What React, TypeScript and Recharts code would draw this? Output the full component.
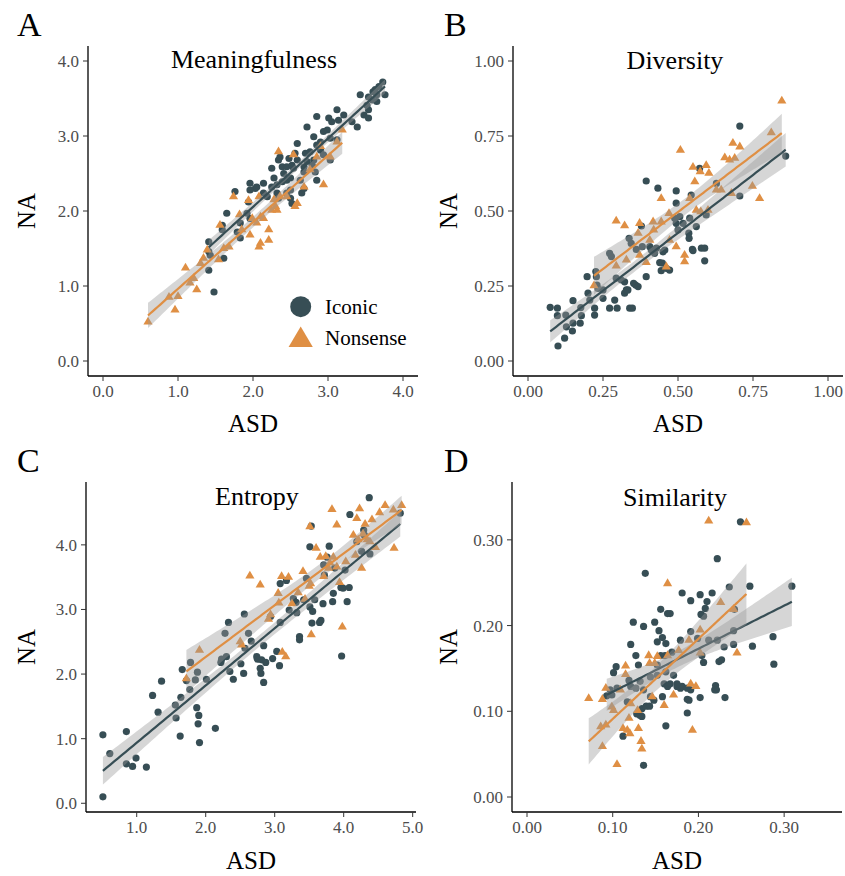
import React from 'react';
import { ComposedChart, Scatter, Line, Area, XAxis, YAxis } from 'recharts';

const ICONIC = '#374E55';
const NONSENSE = '#DF8F44';
const SERIF = "'Liberation Serif', 'Times New Roman', serif";

type Pt = [number, number];

const meaningIconic: Pt[] = [
  [3.73,3.72],[3.68,3.66],[3.63,3.62],[3.60,3.59],[3.65,3.55],[3.76,3.55],[3.43,3.55],[3.54,3.52],[3.59,3.48],[3.65,3.46],
  [3.52,3.41],[3.54,3.35],[3.48,3.28],[3.54,3.24],[3.12,3.35],[3.21,3.28],[3.14,3.21],[3.01,3.24],[3.05,3.19],[2.85,3.26],
  [3.32,3.19],[3.39,3.12],[2.99,3.08],[2.94,3.06],[2.72,3.12],[2.81,2.99],[2.90,2.92],[3.03,2.97],[3.12,2.95],[2.85,2.88],
  [2.76,2.79],[2.70,2.77],[2.59,2.90],[2.56,2.77],[2.48,2.70],[2.36,2.72],[2.34,2.68],[2.39,2.59],[2.45,2.59],[2.41,2.50],
  [2.52,2.61],[2.54,2.57],[2.59,2.68],[2.68,2.59],[2.72,2.66],[2.79,2.61],[2.81,2.68],[2.94,2.75],[3.03,2.68],[2.90,2.81],
  [2.68,2.52],[2.83,2.52],[2.25,2.57],[2.28,2.44],[2.39,2.39],[2.45,2.41],[2.50,2.28],[2.32,2.35],[2.14,2.37],[2.03,2.30],
  [1.96,2.37],[1.96,2.28],[2.05,2.32],[2.14,2.24],[2.25,2.32],[2.32,2.24],[2.45,2.24],[2.50,2.17],[2.65,2.24],[2.68,2.30],
  [2.52,2.10],[2.34,2.17],[2.19,2.19],[1.94,2.12],[1.92,1.97],[1.96,1.90],[1.83,1.84],[1.76,2.26],[1.65,1.97],[1.59,1.75],
  [1.59,1.81],[1.79,1.72],[1.83,1.64],[1.41,1.59],[1.41,1.46],[1.61,1.37],[1.43,1.41],[1.41,1.21],[1.48,0.92],[2.63,2.41],
  [2.85,2.41],[2.50,2.44],
];

const meaningNonsense: Pt[] = [
  [0.60,0.52],[0.96,0.68],[0.88,0.85],[1.00,0.86],[1.10,1.24],[1.16,1.04],[1.25,0.95],[1.21,1.10],[1.30,1.30],[1.34,1.37],
  [1.39,1.48],[1.56,1.81],[1.54,1.35],[1.61,1.50],[1.68,1.52],[1.74,2.19],[1.82,1.95],[1.85,1.75],[1.94,2.14],[1.96,1.68],
  [2.05,1.84],[2.08,2.19],[2.10,1.57],[2.08,1.52],[2.10,1.92],[2.14,1.90],[2.21,1.75],[2.21,1.61],[2.25,2.01],[2.28,2.15],
  [2.30,2.06],[2.32,2.01],[2.34,2.79],[2.36,2.19],[2.45,2.19],[2.54,2.75],[2.56,2.06],[2.59,2.10],[2.68,2.32],[2.76,2.55],
  [2.85,2.72],[2.94,2.35],[3.03,2.72],[3.12,2.92],[3.19,3.08],[2.90,2.86],[1.99,1.90],
];

const diversityIconic: Pt[] = [
  [0.074,0.179],[0.098,0.176],[0.100,0.050],[0.098,0.151],[0.122,0.076],[0.126,0.153],[0.128,0.114],[0.150,0.201],[0.148,0.100],[0.150,0.126],
  [0.174,0.126],[0.176,0.178],[0.178,0.151],[0.197,0.281],[0.200,0.226],[0.206,0.203],[0.222,0.176],[0.222,0.153],[0.226,0.298],[0.228,0.281],
  [0.230,0.253],[0.233,0.242],[0.250,0.209],[0.250,0.237],[0.272,0.359],[0.278,0.348],[0.272,0.176],[0.289,0.203],[0.294,0.276],[0.297,0.176],
  [0.311,0.270],[0.322,0.264],[0.322,0.226],[0.328,0.237],[0.333,0.237],[0.337,0.409],[0.339,0.176],[0.344,0.392],[0.348,0.176],[0.352,0.259],
  [0.359,0.253],[0.367,0.248],[0.361,0.372],[0.378,0.450],[0.381,0.381],[0.394,0.281],[0.394,0.600],[0.406,0.381],[0.411,0.370],[0.422,0.359],
  [0.428,0.376],[0.433,0.576],[0.439,0.328],[0.444,0.301],[0.448,0.326],[0.450,0.364],[0.456,0.370],[0.461,0.309],[0.472,0.303],[0.494,0.567],
  [0.494,0.526],[0.494,0.459],[0.500,0.437],[0.506,0.481],[0.536,0.426],[0.537,0.409],[0.539,0.476],[0.544,0.553],[0.548,0.372],[0.550,0.368],
  [0.561,0.448],[0.572,0.642],[0.578,0.376],[0.589,0.376],[0.589,0.334],[0.594,0.487],[0.628,0.592],[0.706,0.783],[0.706,0.550],[0.859,0.683],
  [0.489,0.476],[0.517,0.459],
];

const diversityNonsense: Pt[] = [
  [0.220,0.251],[0.294,0.467],[0.322,0.451],[0.294,0.317],[0.328,0.337],[0.372,0.459],[0.367,0.426],[0.372,0.353],[0.394,0.329],[0.417,0.464],
  [0.419,0.437],[0.444,0.464],[0.444,0.542],[0.461,0.314],[0.470,0.492],[0.472,0.403],[0.494,0.381],[0.508,0.703],[0.522,0.353],[0.522,0.331],
  [0.550,0.646],[0.556,0.598],[0.574,0.631],[0.576,0.498],[0.594,0.652],[0.600,0.503],[0.603,0.626],[0.628,0.570],[0.644,0.570],[0.656,0.678],
  [0.672,0.670],[0.683,0.726],[0.689,0.676],[0.706,0.714],[0.678,0.559],[0.748,0.583],[0.772,0.542],[0.811,0.761],[0.846,0.867],[0.561,0.503],
  [0.539,0.542],[0.406,0.403],
];

const entropyIconic: Pt[] = [
  [0.51,0.10],[0.51,1.06],[0.61,0.77],[0.85,0.61],[0.85,1.11],[0.94,0.57],[0.99,0.70],[1.14,0.56],[1.23,1.67],[1.31,1.41],
  [1.36,1.89],[1.56,1.52],[1.57,1.32],[1.63,1.04],[1.64,1.64],[1.66,2.07],[1.72,1.90],[1.77,1.76],[1.78,2.18],[1.85,1.91],
  [1.87,1.48],[1.88,2.03],[1.89,1.23],[1.90,1.36],[1.91,0.94],[2.01,1.92],[2.14,1.16],[2.22,2.18],[2.23,2.23],[2.28,2.63],
  [2.30,2.27],[2.33,2.80],[2.35,2.04],[2.40,1.92],[2.51,2.16],[2.55,2.01],[2.56,2.93],[2.57,2.40],[2.62,2.63],[2.66,2.51],
  [2.74,2.27],[2.75,2.23],[2.79,2.09],[2.80,2.01],[2.81,2.22],[2.84,1.87],[2.84,2.44],[2.87,2.18],[2.94,2.89],[2.97,2.24],
  [3.03,2.35],[3.07,2.13],[3.08,2.80],[3.08,3.40],[3.17,3.45],[3.21,2.99],[3.27,3.17],[3.31,3.11],[3.32,2.95],[3.36,2.58],
  [3.36,2.53],[3.42,3.15],[3.46,3.48],[3.51,3.97],[3.51,3.04],[3.53,4.29],[3.54,2.79],[3.55,2.97],[3.58,3.15],[3.65,2.80],
  [3.67,2.83],[3.70,3.09],[3.71,3.69],[3.72,3.53],[3.76,3.81],[3.79,3.98],[3.84,3.12],[3.85,3.25],[3.87,3.64],[3.96,3.34],
  [3.97,2.28],[3.99,3.33],[4.02,3.61],[4.05,3.12],[4.08,3.34],[4.09,4.47],[4.19,4.05],[4.26,3.90],[4.29,4.23],[4.30,4.15],
  [4.37,4.73],[4.38,3.86],[4.82,4.49],
];

const entropyNonsense: Pt[] = [
  [1.72,1.93],[1.91,2.37],[2.50,2.50],[2.52,2.45],[2.64,3.52],[2.79,3.38],[2.91,2.85],[2.94,2.92],[3.05,3.25],[3.06,3.10],
  [3.10,3.51],[3.11,2.34],[3.16,2.27],[3.20,3.50],[3.25,3.09],[3.34,3.26],[3.41,3.59],[3.44,3.16],[3.50,3.36],[3.52,3.40],
  [3.51,4.28],[3.53,2.61],[3.60,3.95],[3.66,3.81],[3.71,3.51],[3.74,3.82],[3.78,3.64],[3.83,4.55],[3.85,3.81],[3.90,4.31],
  [3.90,3.66],[3.94,3.42],[3.98,2.73],[4.03,3.74],[4.14,4.15],[4.17,3.84],[4.19,4.41],[4.23,4.56],[4.21,4.08],[4.26,3.64],
  [4.31,4.32],[4.34,4.08],[4.38,4.05],[4.41,4.39],[4.46,3.96],[4.52,4.50],[4.60,4.61],[4.72,4.54],[4.73,3.95],[4.84,4.61],
  [4.28,4.17],[3.80,3.72],
];

const similarityIconic: Pt[] = [
  [0.249,0.321],[0.222,0.278],[0.138,0.261],[0.164,0.214],[0.167,0.214],[0.156,0.219],[0.124,0.204],[0.136,0.199],[0.149,0.204],[0.154,0.194],
  [0.158,0.186],[0.152,0.181],[0.162,0.179],[0.121,0.178],[0.161,0.165],[0.156,0.165],[0.127,0.165],[0.130,0.154],[0.104,0.152],[0.101,0.145],
  [0.152,0.154],[0.099,0.119],[0.093,0.118],[0.097,0.125],[0.105,0.127],[0.119,0.136],[0.121,0.129],[0.127,0.127],[0.132,0.135],[0.136,0.125],
  [0.144,0.117],[0.148,0.113],[0.152,0.142],[0.160,0.132],[0.164,0.129],[0.167,0.132],[0.171,0.142],[0.175,0.129],[0.179,0.127],[0.181,0.129],
  [0.175,0.132],[0.187,0.127],[0.191,0.125],[0.187,0.114],[0.189,0.113],[0.202,0.116],[0.187,0.098],[0.162,0.083],[0.134,0.094],[0.134,0.103],
  [0.139,0.106],[0.143,0.106],[0.128,0.097],[0.132,0.095],[0.117,0.111],[0.112,0.071],[0.136,0.037],[0.158,0.117],[0.169,0.169],[0.179,0.183],
  [0.181,0.238],[0.191,0.229],[0.191,0.193],[0.202,0.236],[0.203,0.213],[0.206,0.211],[0.208,0.220],[0.210,0.228],[0.216,0.238],[0.206,0.157],
  [0.224,0.158],[0.227,0.160],[0.230,0.175],[0.241,0.178],[0.263,0.176],[0.220,0.130],[0.221,0.125],[0.231,0.116],[0.219,0.125],[0.236,0.245],
  [0.260,0.246],[0.242,0.219],[0.212,0.183],[0.222,0.183],[0.241,0.194],[0.287,0.187],[0.288,0.155],[0.309,0.246],[0.162,0.146],[0.144,0.140],
  [0.199,0.185],[0.204,0.165],
];

const similarityNonsense: Pt[] = [
  [0.072,0.115],[0.088,0.114],[0.092,0.127],[0.086,0.082],[0.092,0.084],[0.088,0.059],[0.105,0.038],[0.112,0.080],[0.115,0.153],[0.115,0.143],
  [0.117,0.078],[0.119,0.092],[0.120,0.074],[0.129,0.101],[0.130,0.080],[0.133,0.065],[0.134,0.056],[0.142,0.165],[0.143,0.156],[0.146,0.117],
  [0.149,0.156],[0.152,0.164],[0.160,0.107],[0.164,0.249],[0.164,0.165],[0.171,0.119],[0.177,0.171],[0.189,0.183],[0.191,0.132],[0.193,0.078],
  [0.197,0.129],[0.202,0.195],[0.202,0.168],[0.212,0.322],[0.226,0.227],[0.241,0.219],[0.245,0.168],[0.256,0.320],[0.109,0.125],[0.121,0.109],
  [0.101,0.101],[0.099,0.105],
];

const ticksA = [0, 1, 2, 3, 4];
const ticksB = [0, 0.25, 0.5, 0.75, 1];
const ticksCx = [1, 2, 3, 4, 5];
const ticksCy = [0, 1, 2, 3, 4];
const ticksD = [0, 0.1, 0.2, 0.3];

const legendLabels = ['Iconic', 'Nonsense'];

function tq975(df: number) {
  const z = 1.959964;
  const z3 = z * z * z;
  const z5 = z3 * z * z;
  return z + (z3 + z) / (4 * df) + (5 * z5 + 16 * z3 + 3 * z) / (96 * df * df);
}

// linear model fit with 95% confidence band (as geom_smooth(method = "lm"))
function smooth(pts: Pt[], steps = 80) {
  const n = pts.length;
  const xbar = pts.reduce((s, p) => s + p[0], 0) / n;
  const ybar = pts.reduce((s, p) => s + p[1], 0) / n;
  let sxx = 0, sxy = 0;
  pts.forEach((p) => { sxx += (p[0] - xbar) ** 2; sxy += (p[0] - xbar) * (p[1] - ybar); });
  const b = sxy / sxx;
  const a = ybar - b * xbar;
  let rss = 0;
  pts.forEach((p) => { rss += (p[1] - a - b * p[0]) ** 2; });
  const s = Math.sqrt(rss / (n - 2));
  const t = tq975(n - 2);
  const xmin = Math.min(...pts.map((p) => p[0]));
  const xmax = Math.max(...pts.map((p) => p[0]));
  const out: { x: number; fit: number; band: [number, number] }[] = [];
  for (let i = 0; i < steps; i++) {
    const x = xmin + ((xmax - xmin) * i) / (steps - 1);
    const f = a + b * x;
    const se = s * Math.sqrt(1 / n + (x - xbar) ** 2 / sxx);
    out.push({ x, fit: f, band: [f - t * se, f + t * se] });
  }
  return out;
}

const toObj = (pts: Pt[]) => pts.map((p) => ({ x: p[0], y: p[1] }));

const circleShape = (props: any) => <circle cx={props.cx} cy={props.cy} r={3.6} fill={ICONIC} />;
const triShape = (props: any) => (
  <path
    d={`M${props.cx},${props.cy - 5.2}L${props.cx + 4.6},${props.cy + 2.6}L${props.cx - 4.6},${props.cy + 2.6}Z`}
    fill={NONSENSE}
  />
);

type PanelCfg = {
  left: number;
  top: number;
  xDomain: [number, number];
  yDomain: [number, number];
  xTicks: number[];
  yTicks: number[];
  digits: number;
  iconic: Pt[];
  nonsense: Pt[];
};

const panels: PanelCfg[] = [
  { left: 88, top: 46, xDomain: [-0.2, 4.2], yDomain: [-0.2, 4.2], xTicks: ticksA, yTicks: ticksA, digits: 1, iconic: meaningIconic, nonsense: meaningNonsense },
  { left: 513, top: 46, xDomain: [-0.05, 1.05], yDomain: [-0.05, 1.05], xTicks: ticksB, yTicks: ticksB, digits: 2, iconic: diversityIconic, nonsense: diversityNonsense },
  { left: 86, top: 482, xDomain: [0.265, 5.048], yDomain: [-0.135, 4.973], xTicks: ticksCx, yTicks: ticksCy, digits: 1, iconic: entropyIconic, nonsense: entropyNonsense },
  { left: 512, top: 482, xDomain: [-0.0175, 0.3675], yDomain: [-0.0175, 0.3675], xTicks: ticksD, yTicks: ticksD, digits: 2, iconic: similarityIconic, nonsense: similarityNonsense },
];

const ML = 70, MT = 10, MR = 10, MB = 40, PW = 330, PH = 330;

const tickStyle = { fill: '#4D4D4D', fontSize: 17, fontFamily: SERIF };

function Panel({ cfg }: { cfg: PanelCfg }) {
  const W = PW + ML + MR;
  const H = PH + MT + MB;
  const fmt = (v: number) => v.toFixed(cfg.digits);
  const fitI = smooth(cfg.iconic);
  const fitN = smooth(cfg.nonsense);
  return (
    <div style={{ position: 'absolute', left: cfg.left - ML, top: cfg.top - MT, width: W, height: H }}>
      <ComposedChart width={W} height={H} margin={{ top: MT, right: MR, left: ML - 60, bottom: MB - 30 }}>
        <XAxis
          type="number" dataKey="x" domain={cfg.xDomain} ticks={cfg.xTicks} allowDataOverflow interval={0}
          height={30} tickFormatter={fmt} tick={tickStyle} tickSize={5} tickMargin={4}
          axisLine={{ stroke: '#000', strokeWidth: 1.3 }} tickLine={{ stroke: '#333', strokeWidth: 1 }}
        />
        <YAxis
          type="number" domain={cfg.yDomain} ticks={cfg.yTicks} allowDataOverflow interval={0}
          width={60} tickFormatter={fmt} tick={tickStyle} tickSize={5} tickMargin={4}
          axisLine={{ stroke: '#000', strokeWidth: 1.3 }} tickLine={{ stroke: '#333', strokeWidth: 1 }}
        />
        <Scatter data={toObj(cfg.iconic)} dataKey="y" shape={circleShape} isAnimationActive={false} zIndex={100} />
        <Scatter data={toObj(cfg.nonsense)} dataKey="y" shape={triShape} isAnimationActive={false} zIndex={101} />
        <Area data={fitI} dataKey="band" type="linear" stroke="none" fill="#999999" fillOpacity={0.4} isAnimationActive={false} zIndex={200} />
        <Line data={fitI} dataKey="fit" type="linear" stroke={ICONIC} strokeWidth={2.2} dot={false} isAnimationActive={false} zIndex={300} />
        <Area data={fitN} dataKey="band" type="linear" stroke="none" fill="#999999" fillOpacity={0.4} isAnimationActive={false} zIndex={400} />
        <Line data={fitN} dataKey="fit" type="linear" stroke={NONSENSE} strokeWidth={2.2} dot={false} isAnimationActive={false} zIndex={500} />
      </ComposedChart>
    </div>
  );
}

const titles = [
  { text: 'Meaningfulness', x: 254, y: 68 },
  { text: 'Diversity', x: 675, y: 69 },
  { text: 'Entropy', x: 257, y: 505 },
  { text: 'Similarity', x: 675, y: 506 },
];
const letters = [
  { text: 'A', x: 17, y: 36 },
  { text: 'B', x: 444, y: 36 },
  { text: 'C', x: 17, y: 472 },
  { text: 'D', x: 444, y: 472 },
];
const xTitles = [
  { x: 253, y: 432 },
  { x: 678, y: 432 },
  { x: 251, y: 869 },
  { x: 677, y: 869 },
];
const yTitles = [
  { x: 35, y: 211 },
  { x: 457, y: 211 },
  { x: 35, y: 647 },
  { x: 457, y: 647 },
];

export default function App() {
  return (
    <div style={{ position: 'absolute', left: 0, top: 0, width: 845, height: 876, background: '#fff', overflow: 'hidden' }}>
      {panels.map((p, i) => <Panel key={i} cfg={p} />)}
      <svg width={845} height={876} style={{ position: 'absolute', left: 0, top: 0, pointerEvents: 'none' }}>
        {titles.map((t) => (
          <text key={t.text} x={t.x} y={t.y} textAnchor="middle" fontFamily={SERIF} fontSize={26} fill="#000">{t.text}</text>
        ))}
        {letters.map((t) => (
          <text key={t.text} x={t.x} y={t.y} fontFamily={SERIF} fontSize={34} fill="#000">{t.text}</text>
        ))}
        {xTitles.map((t, i) => (
          <text key={'x' + i} x={t.x} y={t.y} textAnchor="middle" fontFamily={SERIF} fontSize={25} fill="#000">ASD</text>
        ))}
        {yTitles.map((t, i) => (
          <text key={'y' + i} x={t.x} y={t.y} textAnchor="middle" fontFamily={SERIF} fontSize={25} fill="#000" transform={`rotate(-90 ${t.x} ${t.y})`}>NA</text>
        ))}
        <circle cx={300.7} cy={306.7} r={10.5} fill={ICONIC} />
        <path d="M300.7,326.5L312.8,347L288.6,347Z" fill={NONSENSE} />
        <text x={325} y={314} fontFamily={SERIF} fontSize={21} fill="#000">{legendLabels[0]}</text>
        <text x={325} y={345} fontFamily={SERIF} fontSize={21} fill="#000">{legendLabels[1]}</text>
      </svg>
    </div>
  );
}
